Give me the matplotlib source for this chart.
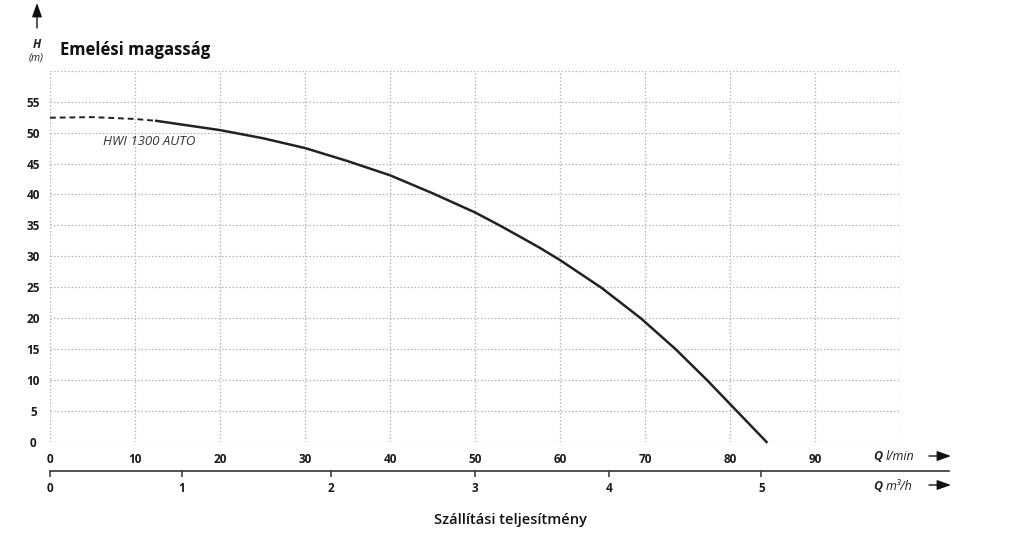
import matplotlib
matplotlib.use("Agg")
import matplotlib.pyplot as plt
from matplotlib.patches import FancyArrowPatch
from matplotlib.ticker import FixedLocator, FixedFormatter

plt.rcParams['font.family'] = ['Open Sans', 'DejaVu Sans']

# ---- data ----
q_dashed = [0, 5, 10, 12.5]
h_dashed = [52.4, 52.5, 52.2, 51.9]
q_solid = [12.5, 20, 25, 30, 35, 40, 45, 50, 52.9, 55, 57.6, 60, 64.9,
           69.5, 73.6, 77.3, 80.8, 84.3]
h_solid = [51.9, 50.4, 49.1, 47.5, 45.4, 43.1, 40.2, 37.1, 35.0, 33.4, 31.4, 29.4,
           24.9, 20.0, 15.0, 10.0, 5.0, 0.0]
curve_label = "HWI 1300 AUTO"

x_ticks = [0, 10, 20, 30, 40, 50, 60, 70, 80, 90, 100]
x_tick_labels = ["0", "10", "20", "30", "40", "50", "60", "70", "80", "90", ""]
y_ticks = [0, 5, 10, 15, 20, 25, 30, 35, 40, 45, 50, 55, 60]
y_tick_labels = ["0", "5", "10", "15", "20", "25", "30", "35", "40", "45", "50", "55", ""]

# m3/h scale, tick positions expressed in l/min units as drawn in the reference
m3h_tick_pos = [0, 15.5, 33.0, 50.0, 65.8, 83.7]
m3h_tick_labels = ["0", "1", "2", "3", "4", "5"]

W, H = 1024, 542
fig = plt.figure(figsize=(W / 100, H / 100), dpi=100)


def fx(x):
    return x / W


def fy(y):
    return 1 - y / H


ax_l, ax_r, ax_t, ax_b = 50, 900, 70.7, 442
ax = fig.add_axes([fx(ax_l), fy(ax_b), (ax_r - ax_l) / W, (ax_b - ax_t) / H])
ax.set_xlim(0, 100)
ax.set_ylim(0, 60)
for s in ax.spines.values():
    s.set_visible(False)
ax.xaxis.set_major_locator(FixedLocator(x_ticks))
ax.xaxis.set_major_formatter(FixedFormatter(x_tick_labels))
ax.yaxis.set_major_locator(FixedLocator(y_ticks))
ax.yaxis.set_major_formatter(FixedFormatter(y_tick_labels))
ax.grid(True, color="#b5b5b5", linestyle=(0, (1.2, 1.6)), linewidth=0.9)
ax.set_axisbelow(True)
ax.tick_params(axis="both", length=0, labelsize=8.5, labelcolor="#1a1a1a")
ax.tick_params(axis="x", pad=8)
ax.tick_params(axis="y", pad=12)
for lab in ax.get_xticklabels() + ax.get_yticklabels():
    lab.set_fontweight("bold")
for lab in ax.get_yticklabels():
    lab.set_horizontalalignment("center")

ax.plot(q_dashed, h_dashed, color="#222222", lw=1.4, linestyle=(0, (3, 2)),
        solid_capstyle="butt", clip_on=False)
ax.plot(q_solid, h_solid, color="#222222", lw=1.8, clip_on=False,
        solid_joinstyle="round")
ax.text(6.2, 48.5, curve_label, fontsize=9.5, style="italic", color="#333333",
        ha="left", va="center")

# secondary m3/h scale
scale_right = 949
ax2 = fig.add_axes([fx(ax_l), fy(471), (scale_right - ax_l) / W, 0.0001])
ax2.set_xlim(0, (scale_right - ax_l) / 8.5)
ax2.set_ylim(0, 1)
for k in ("top", "left", "right"):
    ax2.spines[k].set_visible(False)
ax2.spines["bottom"].set_color("#333333")
ax2.spines["bottom"].set_linewidth(1.2)
ax2.set_yticks([])
ax2.xaxis.set_major_locator(FixedLocator(m3h_tick_pos))
ax2.xaxis.set_major_formatter(FixedFormatter(m3h_tick_labels))
ax2.tick_params(axis="x", direction="out", length=4, width=1.1, color="#333333",
                labelsize=8.5, labelcolor="#1a1a1a", pad=4)
for lab in ax2.get_xticklabels():
    lab.set_fontweight("bold")
ax2.patch.set_visible(False)

# axis titles / annotations
fig.text(fx(60), fy(50), "Emelési magasság", fontsize=12, fontweight="bold",
         color="#111111", ha="left", va="center")
fig.text(fx(37), fy(44), "H", fontsize=8.5, fontweight="bold", style="italic",
         color="#222222", ha="center", va="center")
fig.text(fx(36), fy(58), "(m)", fontsize=7.5, style="italic",
         color="#222222", ha="center", va="center")
fig.text(fx(510), fy(520), "Szállítási teljesítmény", fontsize=10.5, fontweight="semibold",
         color="#111111", ha="center", va="center")

fig.text(fx(878), fy(457), "Q", fontsize=9, fontweight="bold", style="italic",
         color="#222222", ha="center", va="center")
fig.text(fx(886), fy(457), "l/min", fontsize=9, style="italic",
         color="#222222", ha="left", va="center")
fig.text(fx(878), fy(486), "Q", fontsize=9, fontweight="bold", style="italic",
         color="#222222", ha="center", va="center")
fig.text(fx(886), fy(486), "m³/h", fontsize=9, style="italic",
         color="#222222", ha="left", va="center")

arrow_kw = dict(arrowstyle="-|>,head_length=0.7,head_width=0.25", color="#111111",
                lw=1.0, shrinkA=0, shrinkB=0)
for yy in (456, 485):
    fig.add_artist(FancyArrowPatch(
        (fx(929), fy(yy)), (fx(951), fy(yy)), transform=fig.transFigure,
        mutation_scale=12, **arrow_kw))
fig.add_artist(FancyArrowPatch(
    (fx(37), fy(28)), (fx(37), fy(3)), transform=fig.transFigure,
    mutation_scale=12, **arrow_kw))

fig.savefig("out.png", dpi=100)
